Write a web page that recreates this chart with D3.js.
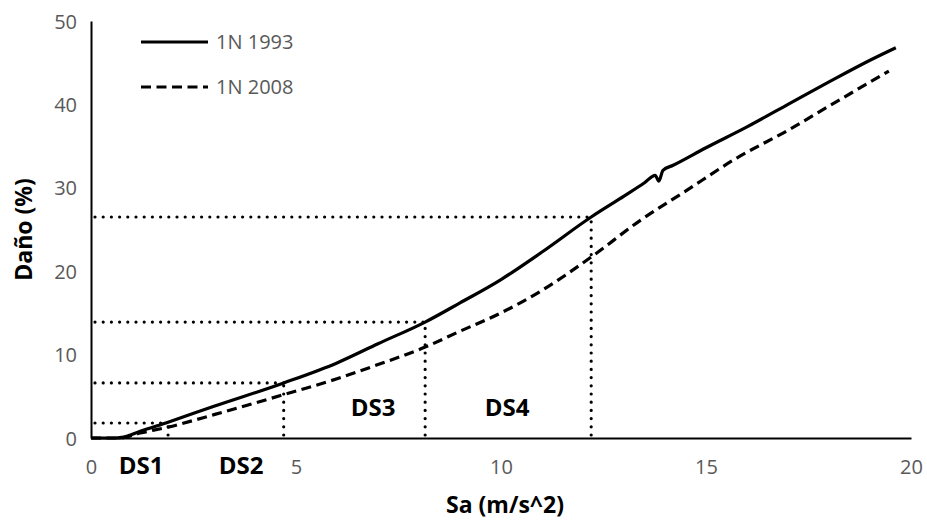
<!DOCTYPE html>
<html><head><meta charset="utf-8">
<script src="https://cdn.jsdelivr.net/npm/d3@7"></script>
<style>body{margin:0;background:#fff;}svg{display:block;}</style>
</head><body>
<svg id="chart" width="927" height="523"></svg>
<script>
// ---- data ----
const sa1993 =   [0, 0.6, 0.8, 1.2, 1.88, 3.0, 4.7, 6.0, 7.0, 8.15, 9.0, 10.0, 11.0, 12.2, 13.0, 13.5, 13.76, 13.85, 13.95, 14.2, 15.0, 16.0, 17.0, 18.0, 19.0, 19.63];
const dano1993 = [0, 0,   0.1, 0.8, 1.9,  3.8, 6.6, 9.0, 11.3, 13.9, 16.2, 19.0, 22.3, 26.5, 29.0, 30.6, 31.5, 30.8, 32.1, 32.7, 34.8, 37.3, 40.0, 42.7, 45.3, 46.8];
const sa2008 =   [0, 0.7, 1.2, 1.88, 3.0, 4.7, 6.0, 7.0, 8.15, 9.0, 10.0, 11.0, 12.2, 13.4, 14.5, 15.76, 17.0, 18.0, 19.46];
const dano2008 = [0, 0,   0.6, 1.3,  2.8, 5.2, 7.1, 8.8, 10.9, 12.8, 15.0, 17.7, 21.7, 26.1, 29.6, 33.6, 36.9, 39.8, 44.0];
const seriesNames = ["1N 1993", "1N 2008"];
const dsNames = ["DS1", "DS2", "DS3", "DS4"];
const dsSa = [1.88, 4.7, 8.15, 12.2];
const dsDano = [1.8, 6.6, 13.9, 26.5];
const xTicks = [0, 5, 10, 15, 20];
const yTicks = [0, 10, 20, 30, 40, 50];
const xTitle = "Sa (m/s^2)";
const yTitle = "Daño (%)";

// ---- layout ----
const svg = d3.select("#chart");
const x = d3.scaleLinear().domain([0, 20]).range([91, 911]);
const y = d3.scaleLinear().domain([0, 50]).range([438, 21]);
const tickFont = "'Open Sans', sans-serif";
const gray = "#595959";

// dotted guides
dsSa.forEach((s, i) => {
  svg.append("line").attr("x1", x(0) + 4).attr("x2", x(s)).attr("y1", y(dsDano[i])).attr("y2", y(dsDano[i]))
    .attr("stroke", "#000").attr("stroke-width", 3.2).attr("stroke-dasharray", "0,8.2").attr("stroke-linecap", "round");
  svg.append("line").attr("x1", x(s)).attr("x2", x(s)).attr("y1", y(0) - 3).attr("y2", y(dsDano[i]))
    .attr("stroke", "#000").attr("stroke-width", 3.2).attr("stroke-dasharray", "0,8.2").attr("stroke-linecap", "round");
});

// axes lines (no ticks)
const xAxis = d3.axisBottom(x).tickValues(xTicks).tickSize(0).tickPadding(22).tickFormat(d3.format("d"));
const yAxis = d3.axisLeft(y).tickValues(yTicks).tickSize(0).tickPadding(14).tickFormat(d3.format("d"));
const gx = svg.append("g").attr("transform", `translate(0,${y(0)})`).call(xAxis);
const gy = svg.append("g").attr("transform", `translate(${x(0)},0)`).call(yAxis);
[gx, gy].forEach(g => {
  g.select(".domain").attr("stroke", "#000").attr("stroke-width", 2);
  g.selectAll("text").attr("fill", gray).style("font-family", tickFont).style("font-size", "20px");
});
gy.selectAll("text").attr("dy", "0.35em");

// series lines
const line = d3.line().x(d => x(d[0])).y(d => y(d[1])).curve(d3.curveMonotoneX);
const d1 = sa1993.map((s, i) => [s, dano1993[i]]);
const d2 = sa2008.map((s, i) => [s, dano2008[i]]);
svg.append("path").attr("d", line(d2)).attr("fill", "none").attr("stroke", "#000").attr("stroke-width", 3.2)
  .attr("stroke-dasharray", "10,5.5");
svg.append("path").attr("d", line(d1)).attr("fill", "none").attr("stroke", "#000").attr("stroke-width", 3.2)
  .attr("stroke-linejoin", "round");

// DS labels
const dsLabelPos = [[1.22, -3.3], [3.66, -3.3], [6.88, 3.7], [10.15, 3.7]];
dsNames.forEach((n, i) => {
  svg.append("text").attr("x", x(dsLabelPos[i][0])).attr("y", y(dsLabelPos[i][1])).attr("dy", "0.35em")
    .attr("text-anchor", "middle").style("font-family", tickFont).style("font-weight", 700).style("font-size", "24px")
    .attr("fill", "#000").text(n);
});

// legend
const legend = svg.append("g");
seriesNames.forEach((n, i) => {
  const ly = 42 + i * 45;
  legend.append("line").attr("x1", 141).attr("x2", 208).attr("y1", ly).attr("y2", ly)
    .attr("stroke", "#000").attr("stroke-width", 3.2).attr("stroke-dasharray", i === 1 ? "10,5.5" : null);
  legend.append("text").attr("x", 216).attr("y", ly).attr("dy", "0.35em").attr("fill", gray)
    .style("font-family", tickFont).style("font-size", "20px").text(n);
});

// axis titles
svg.append("text").attr("x", 505).attr("y", 505).attr("dy", "0.35em").attr("text-anchor", "middle")
  .style("font-family", tickFont).style("font-weight", 700).style("font-size", "23px").attr("fill", "#000").text(xTitle);
svg.append("text").attr("transform", `translate(24,${(y(0) + y(50)) / 2}) rotate(-90)`).attr("dy", "0.35em")
  .attr("text-anchor", "middle").style("font-family", tickFont).style("font-weight", 700).style("font-size", "23px")
  .attr("fill", "#000").text(yTitle);
</script>
</body></html>
